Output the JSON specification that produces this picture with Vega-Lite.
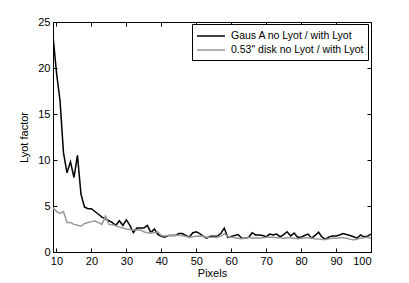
{
  "$schema": "https://vega.github.io/schema/vega-lite/v6.json",
  "width": 318,
  "height": 230,
  "autosize": {"type": "none"},
  "padding": {"left": 53, "top": 22, "right": 38, "bottom": 31},
  "background": "white",
  "config": {
    "view": {"stroke": "black", "strokeWidth": 1},
    "font": "Liberation Sans",
    "axis": {
      "grid": false,
      "labelFont": "Liberation Sans",
      "labelFontSize": 11,
      "labelColor": "black",
      "titleFont": "Liberation Sans",
      "titleFontSize": 11,
      "titleFontWeight": "normal",
      "titleColor": "black",
      "domainColor": "black",
      "tickColor": "black",
      "tickSize": -4,
      "labelPadding": 7
    },
    "legend": {
      "labelFont": "Liberation Sans",
      "labelFontSize": 10.5,
      "labelColor": "black"
    }
  },
  "data": {
    "values": [
      {"x":9,"g":23.5,"d":4.8},{"x":10,"g":19.5,"d":4.4},{"x":11,"g":16.5,"d":4.2},{"x":12,"g":10.8,"d":4.4},
      {"x":13,"g":8.6,"d":3.2},{"x":14,"g":9.8,"d":3.2},{"x":15,"g":8.1,"d":3.0},{"x":16,"g":10.5,"d":2.9},
      {"x":17,"g":6.3,"d":2.8},{"x":18,"g":4.9,"d":3.1},{"x":19,"g":4.7,"d":3.2},{"x":20,"g":4.7,"d":3.3},
      {"x":21,"g":4.4,"d":3.4},{"x":22,"g":4.1,"d":3.2},{"x":23,"g":3.8,"d":3.0},{"x":24,"g":3.6,"d":3.9},
      {"x":25,"g":3.4,"d":3.0},{"x":26,"g":3.2,"d":2.95},{"x":27,"g":2.9,"d":2.85},{"x":28,"g":3.4,"d":2.7},
      {"x":29,"g":2.9,"d":2.6},{"x":30,"g":3.5,"d":2.5},{"x":31,"g":2.9,"d":2.45},{"x":32,"g":2.1,"d":2.4},
      {"x":33,"g":2.6,"d":2.4},{"x":34,"g":2.6,"d":2.4},{"x":35,"g":2.6,"d":2.2},{"x":36,"g":2.9,"d":2.1},
      {"x":37,"g":2.1,"d":2.1},{"x":38,"g":2.5,"d":2.1},{"x":39,"g":1.9,"d":2.2},{"x":40,"g":1.7,"d":1.8},
      {"x":41,"g":1.6,"d":1.75},{"x":42,"g":1.8,"d":1.8},{"x":43,"g":1.8,"d":1.8},{"x":44,"g":1.8,"d":1.85},
      {"x":45,"g":2.0,"d":1.8},{"x":46,"g":2.0,"d":1.8},{"x":47,"g":1.8,"d":1.7},{"x":48,"g":1.6,"d":1.6},
      {"x":49,"g":2.1,"d":1.65},{"x":50,"g":2.2,"d":1.7},{"x":51,"g":2.0,"d":1.75},{"x":52,"g":1.7,"d":1.7},
      {"x":53,"g":1.5,"d":1.6},{"x":54,"g":1.7,"d":1.6},{"x":55,"g":1.7,"d":1.6},{"x":56,"g":1.7,"d":1.6},
      {"x":57,"g":2.0,"d":1.7},{"x":58,"g":2.6,"d":2.0},{"x":59,"g":1.6,"d":1.7},{"x":60,"g":1.7,"d":1.6},
      {"x":61,"g":1.8,"d":1.55},{"x":62,"g":1.9,"d":1.5},{"x":63,"g":1.5,"d":1.45},{"x":64,"g":1.5,"d":1.5},
      {"x":65,"g":1.6,"d":1.6},{"x":66,"g":2.1,"d":1.5},{"x":67,"g":1.85,"d":1.55},{"x":68,"g":1.85,"d":1.5},
      {"x":69,"g":1.8,"d":1.55},{"x":70,"g":1.65,"d":1.6},{"x":71,"g":1.95,"d":1.6},{"x":72,"g":1.85,"d":1.6},
      {"x":73,"g":1.95,"d":1.55},{"x":74,"g":1.65,"d":1.55},{"x":75,"g":1.9,"d":1.5},{"x":76,"g":2.2,"d":1.55},
      {"x":77,"g":1.75,"d":1.55},{"x":78,"g":2.05,"d":1.5},{"x":79,"g":1.6,"d":1.45},{"x":80,"g":1.6,"d":1.5},
      {"x":81,"g":1.8,"d":1.55},{"x":82,"g":1.95,"d":1.55},{"x":83,"g":1.5,"d":1.5},{"x":84,"g":1.8,"d":1.45},
      {"x":85,"g":2.15,"d":1.4},{"x":86,"g":1.6,"d":1.35},{"x":87,"g":1.4,"d":1.35},{"x":88,"g":1.65,"d":1.45},
      {"x":89,"g":1.75,"d":1.5},{"x":90,"g":1.75,"d":1.5},{"x":91,"g":1.85,"d":1.55},{"x":92,"g":2.0,"d":1.55},
      {"x":93,"g":1.9,"d":1.5},{"x":94,"g":1.8,"d":1.4},{"x":95,"g":1.65,"d":1.3},{"x":96,"g":1.5,"d":1.4},
      {"x":97,"g":1.85,"d":1.5},{"x":98,"g":1.65,"d":1.55},{"x":99,"g":1.7,"d":1.6},{"x":100,"g":1.95,"d":1.5}
    ]
  },
  "transform": [{"fold": ["g", "d"], "as": ["s", "y"]}],
  "layer": [
    {
      "mark": {"type": "line", "strokeWidth": 1.5, "clip": true},
      "encoding": {
        "x": {
          "field": "x", "type": "quantitative",
          "scale": {"domain": [9, 100], "nice": false, "zero": false},
          "axis": {"values": [10,20,30,40,50,60,70,80,90,100], "title": "Pixels", "titlePadding": 1, "orient": "bottom"}
        },
        "y": {
          "field": "y", "type": "quantitative",
          "scale": {"domain": [0, 25], "nice": false},
          "axis": {"values": [0,5,10,15,20,25], "title": "Lyot factor", "titlePadding": 8, "orient": "left"}
        },
        "color": {
          "field": "s", "type": "nominal",
          "scale": {"domain": ["g", "d"], "range": ["#000000", "#999999"]},
          "legend": {
            "title": null,
            "orient": "none",
            "legendX": 139,
            "legendY": 2,
            "direction": "vertical",
            "symbolType": "M-1,0H3",
            "symbolSize": 196,
            "symbolStrokeWidth": 1.5,
            "labelOffset": 19,
            "padding": 4,
            "rowPadding": 0,
            "strokeColor": "black",
            "fillColor": "white",
            "labelExpr": "datum.value == 'g' ? 'Gaus A no Lyot / with Lyot' : '0.53\" disk no Lyot / with Lyot'"
          }
        }
      }
    },
    {
      "mark": {"type": "line", "opacity": 0},
      "encoding": {
        "x": {
          "field": "x", "type": "quantitative",
          "axis": {"values": [10,20,30,40,50,60,70,80,90,100], "title": null, "labels": false, "orient": "top"}
        },
        "y": {
          "field": "y", "type": "quantitative",
          "axis": {"values": [0,5,10,15,20,25], "title": null, "labels": false, "orient": "right"}
        },
        "detail": {"field": "s"}
      }
    }
  ]
}
